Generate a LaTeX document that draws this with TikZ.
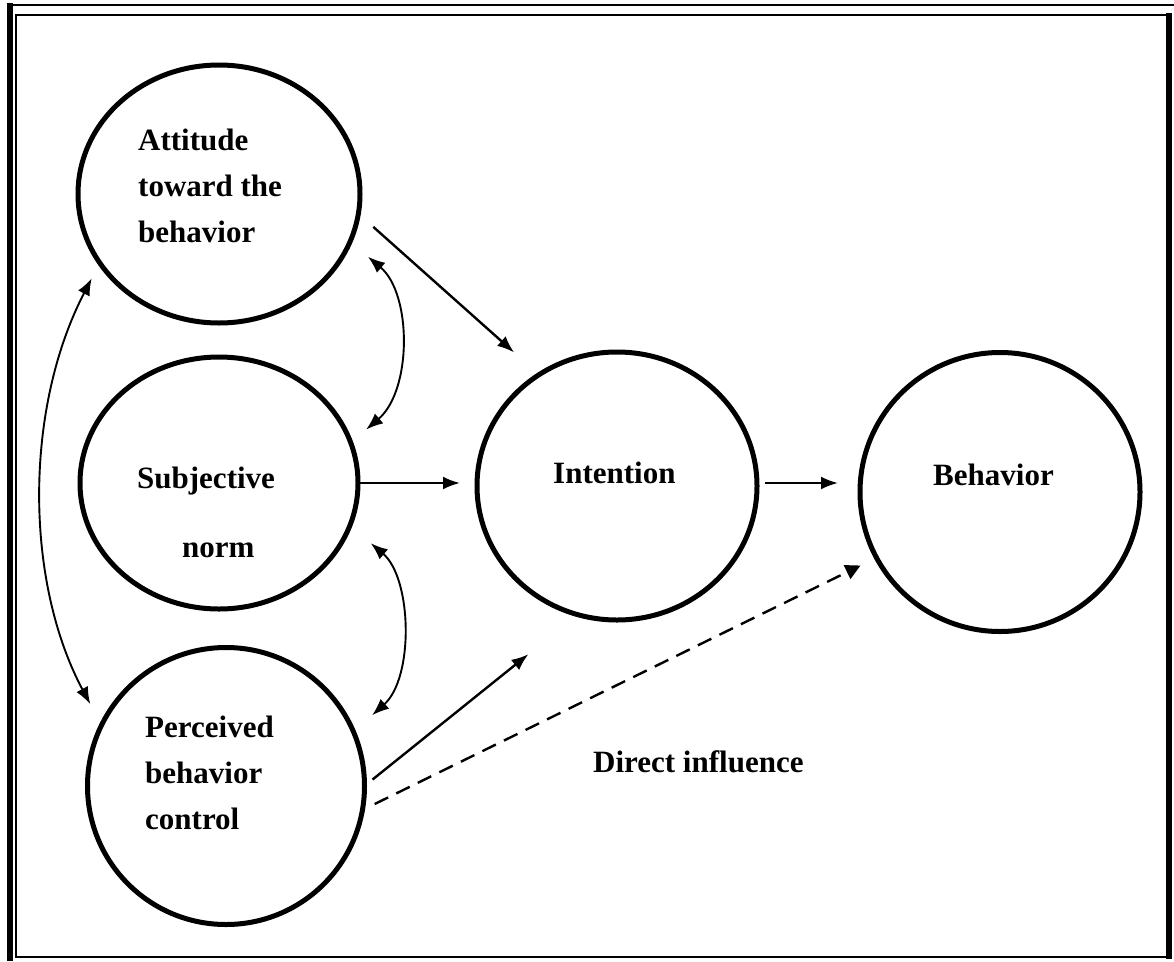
\documentclass[tikz,border=0pt]{standalone}
\usepackage{fontspec}
\setmainfont{Liberation Serif}
\usetikzlibrary{shapes.geometric,arrows.meta,calc}
\begin{document}
\begin{tikzpicture}[x=1pt,y=-1pt,
  circ/.style={draw, ellipse, line width=5pt, outer sep=0pt, inner sep=0pt},
  lbl/.style={font=\fontsize{31}{46}\selectfont\bfseries, inner sep=0pt, align=left},
  arr/.style={line width=2.4pt, -{Latex[length=17pt,width=13pt]}},
  barr/.style={line width=1.9pt, {Latex[length=17pt,width=13pt]}-{Latex[length=17pt,width=13pt]}},
  darr/.style={line width=2.4pt, dash pattern=on 15pt off 9pt, -{Triangle[length=15pt,width=15pt]}},
  frame/.style={line width=2.2pt},
  thickframe/.style={line width=5.5pt}]
\useasboundingbox (0,0) rectangle (1174,961);
% frame
\draw[frame] (7,5) -- (1174,5);
\draw[thickframe] (10,3) -- (10,961);
\draw[frame] (1169,15) -- (16,15) -- (16,957) -- (1169,957);
\draw[thickframe] (1169,13) -- (1169,959);
% circles
\node[circ, minimum width=282pt, minimum height=258pt] (att) at (219,194) {};
\node[circ, minimum width=278pt, minimum height=252pt] (subj) at (219,483) {};
\node[circ, minimum width=277pt, minimum height=277pt] (perc) at (226,786) {};
\node[circ, minimum width=280pt, minimum height=268pt] (int) at (617,486) {};
\node[circ, minimum width=280pt, minimum height=279pt] (beh) at (1000,492) {};
% texts
\node[lbl, anchor=north west] (attT) at (138,129) {Attitude\\toward the\\behavior};
\node[lbl, anchor=north west] (subjT) at (137,467) {Subjective\\[23pt]\hspace*{45pt}norm};
\node[lbl, anchor=north west] (percT) at (145,716) {Perceived\\behavior\\control};
\node[lbl, anchor=base west] (intT) at (553,483) {Intention};
\node[lbl, anchor=base west] (behT) at (933,485) {Behavior};
\node[lbl, anchor=base west] (dirT) at (593,772) {Direct influence};
% straight arrows
\draw[arr, shorten <=20pt, shorten >=33.4pt] (att.-8.9) -- (int.125.7);
\draw[arr, shorten <=2pt, shorten >=17pt] (subj.east) -- (subj.east -| int.west);
\draw[arr, shorten <=8pt, shorten >=22pt] (int.east |- subj.east) -- (subj.east -| beh.west);
\draw[arr, shorten <=10.3pt, shorten >=63.2pt] (perc.0.6) -- (int.-107.9);
\draw[darr, shorten <=13.7pt, shorten >=17.8pt] (perc.-10.5) -- (beh.-152.3);
% curved double arrows
\draw[barr, shorten <=23.5pt, shorten >=20.3pt] (att.-20.1) .. controls +(62,52) and +(61.5,-52.5) .. (subj.17.5);
\draw[barr, shorten <=27.4pt, shorten >=25pt] (subj.-18.9) .. controls +(62.2,52.7) and +(60.7,-54.3) .. (perc.23.9);
\draw[barr, shorten <=17.4pt, shorten >=24pt] (att.-150.5) .. controls +(-75.5,145.6) and +(-77.1,-144.8) .. (perc.154.3);
\end{tikzpicture}
\end{document}
